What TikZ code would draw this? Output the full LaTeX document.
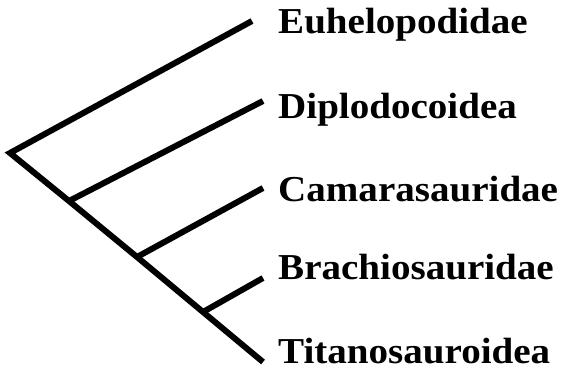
\documentclass[tikz,border=0pt]{standalone}
\usepackage{fontspec}
\setmainfont{Liberation Serif}
\begin{document}
\begin{tikzpicture}[x=1pt,y=-1pt,
  branch/.style={line width=6pt,line cap=butt,line join=miter},
  taxon/.style={anchor=base west,inner sep=0pt,font=\fontsize{36.5}{40}\selectfont\bfseries,xscale=1.07}]
\useasboundingbox (0,0) rectangle (562,383);
\coordinate (root) at (10,153);
\coordinate (n1) at (69,201);
\coordinate (n2) at (137,257);
\coordinate (n3) at (203,312);
\coordinate (eE) at (252,21);
\coordinate (eD) at (263,101);
\coordinate (eC) at (263,188);
\coordinate (eB) at (263,278);
\coordinate (eT) at (263,362);
\node[taxon] (tE) at (278,33) {Euhelopodidae};
\node[taxon] (tD) at (278,118) {Diplodocoidea};
\node[taxon] (tC) at (278,201) {Camarasauridae};
\node[taxon] (tB) at (278,279) {Brachiosauridae};
\node[taxon] (tT) at (278,363) {Titanosauroidea};
\draw[branch] (eE) -- (root) -- (n1) -- (n2) -- (n3) -- (eT);
\draw[branch] (n1) -- (eD);
\draw[branch] (n2) -- (eC);
\draw[branch] (n3) -- (eB);
\end{tikzpicture}
\end{document}
